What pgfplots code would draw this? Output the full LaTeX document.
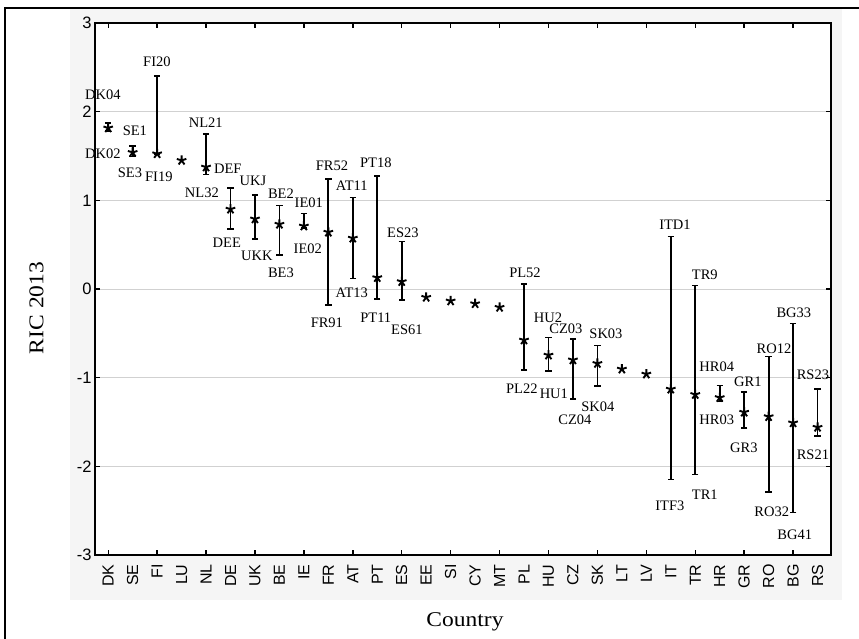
\documentclass[border=0pt]{standalone}
\usepackage{fontspec}
\setmainfont{Liberation Serif}
\newfontfamily\arial{Liberation Sans}
\newfontfamily\axlab[FakeStretch=1.12]{Liberation Serif}
\usepackage{pgfplots}
\usepackage{pgfplotstable}
\pgfplotsset{compat=1.18}

\pgfplotstableread{
x y lo hi
0 1.816 1.78 1.87
1 1.54 1.495 1.616
2 1.525 1.52 2.40
4 1.375 1.29 1.75
5 0.90 0.68 1.14
6 0.79 0.565 1.06
7 0.73 0.385 0.94
8 0.71 0.69 0.85
9 0.64 -0.18 1.24
10 0.573 0.12 1.03
11 0.128 -0.113 1.277
12 0.083 -0.124 0.535
17 -0.576 -0.915 0.056
18 -0.746 -0.927 -0.546
19 -0.80 -1.243 -0.565
20 -0.84 -1.096 -0.636
23 -1.13 -2.15 0.59
24 -1.19 -2.09 0.04
25 -1.225 -1.27 -1.09
26 -1.39 -1.57 -1.16
27 -1.44 -2.29 -0.76
28 -1.51 -2.52 -0.39
29 -1.56 -1.655 -1.13
}\bars
\pgfplotstableread{
x y
3 1.45
13 -0.094
14 -0.135
15 -0.166
16 -0.207
21 -0.904
22 -0.96
}\nobars

\newcommand{\lab}{\fontsize{14.5}{14.5}\selectfont}

\begin{document}
\begin{tikzpicture}
\useasboundingbox (-95pt,-84pt) rectangle (764pt,555pt);
\fill[black!4] (-25pt,-45pt) rectangle (747pt,546pt);
\draw[line width=1.2pt] (-90pt,-84pt) -- (-90pt,547pt) -- (764pt,547pt);
\begin{axis}[
  at={(0pt,0pt)}, anchor=south west,
  scale only axis, width=736pt, height=532pt,
  xmin=-0.54, xmax=29.55, ymin=-3, ymax=3,
  clip=false,
  axis background/.style={fill=white},
  axis line style={line width=1.8pt},
  tick align=inside,
  major tick length=5pt,
  tick style={black, line width=1.4pt},
  xtick={0,2,...,28},
  xticklabels={},
  extra x ticks={0,...,29},
  extra x tick labels={DK,SE,FI,LU,NL,DE,UK,BE,IE,FR,AT,PT,ES,EE,SI,CY,MT,PL,HU,CZ,SK,LT,LV,IT,TR,HR,GR,RO,BG,RS},
  extra x tick style={major tick length=0pt},
  xticklabel style={font=\arial\fontsize{16}{16}\selectfont, rotate=90, anchor=east},
  xticklabel shift=6pt,
  ytick={-3,...,3},
  yticklabel style={font=\arial\fontsize{16.5}{16.5}\selectfont},
  /pgf/number format/assume math mode=true,
  ymajorgrids,
  major grid style={black!18, line width=0.9pt},
]
\addplot[black, only marks, mark=star, mark size=5pt, mark options={line width=1.9pt},
  error bars/.cd, y dir=both, y explicit, error mark=-,
  error bar style={line width=1.8pt, black},
  error mark options={line width=1.6pt, mark size=3.2pt, black, rotate=90}]
  table[x=x, y=y, y error plus expr=\thisrow{hi}-\thisrow{y}, y error minus expr=\thisrow{y}-\thisrow{lo}] {\bars};
\addplot[black, only marks, mark=star, mark size=5pt, mark options={line width=1.9pt}]
  table[x=x, y=y] {\nobars};

\begin{scope}[every node/.style={font=\lab, inner sep=0pt}]
\node at (axis cs:-0.22,2.19) {DK04};
\node at (axis cs:-0.22,1.53) {DK02};
\node at (axis cs:1.09,1.78) {SE1};
\node at (axis cs:0.89,1.31) {SE3};
\node at (axis cs:1.99,2.56) {FI20};
\node at (axis cs:2.07,1.27) {FI19};
\node at (axis cs:3.99,1.88) {NL21};
\node at (axis cs:3.83,1.09) {NL32};
\node at (axis cs:4.89,1.36) {DEF};
\node at (axis cs:4.85,0.52) {DEE};
\node at (axis cs:5.92,1.22) {UKJ};
\node at (axis cs:6.08,0.37) {UKK};
\node at (axis cs:7.06,1.07) {BE2};
\node at (axis cs:7.06,0.18) {BE3};
\node at (axis cs:8.20,0.97) {IE01};
\node at (axis cs:8.16,0.45) {IE02};
\node at (axis cs:9.15,1.39) {FR52};
\node at (axis cs:8.94,-0.38) {FR91};
\node at (axis cs:9.96,1.16) {AT11};
\node at (axis cs:9.96,-0.045) {AT13};
\node at (axis cs:10.94,1.42) {PT18};
\node at (axis cs:10.94,-0.32) {PT11};
\node at (axis cs:12.05,0.63) {ES23};
\node at (axis cs:12.21,-0.46) {ES61};
\node at (axis cs:17.04,0.18) {PL52};
\node at (axis cs:16.91,-1.12) {PL22};
\node at (axis cs:17.98,-0.32) {HU2};
\node at (axis cs:18.22,-1.18) {HU1};
\node at (axis cs:18.71,-0.45) {CZ03};
\node at (axis cs:19.08,-1.48) {CZ04};
\node at (axis cs:20.35,-0.51) {SK03};
\node at (axis cs:20.02,-1.33) {SK04};
\node at (axis cs:23.17,0.72) {ITD1};
\node at (axis cs:22.96,-2.44) {ITF3};
\node at (axis cs:24.39,0.16) {TR9};
\node at (axis cs:24.39,-2.32) {TR1};
\node at (axis cs:24.88,-0.88) {HR04};
\node at (axis cs:24.88,-1.47) {HR03};
\node at (axis cs:26.15,-1.05) {GR1};
\node at (axis cs:25.99,-1.79) {GR3};
\node at (axis cs:27.22,-0.67) {RO12};
\node at (axis cs:27.13,-2.51) {RO32};
\node at (axis cs:28.03,-0.27) {BG33};
\node at (axis cs:28.07,-2.77) {BG41};
\node at (axis cs:28.81,-0.97) {RS23};
\node at (axis cs:28.81,-1.87) {RS21};
\end{scope}
\end{axis}
\node[rotate=90, font=\axlab\fontsize{21}{21}\selectfont] at (-58.5pt,247pt) {RIC 2013};
\node[anchor=base, font=\axlab\fontsize{21}{21}\selectfont] at (370pt,-72pt) {Country};
\end{tikzpicture}
\end{document}
